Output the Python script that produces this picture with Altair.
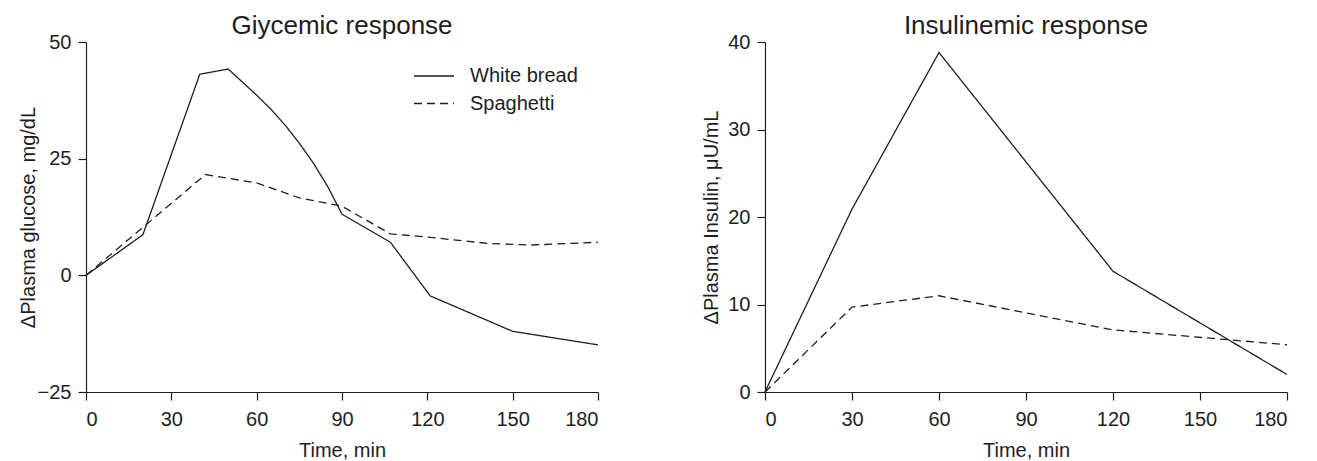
import altair as alt
import pandas as pd

# ---- data ----
series_names = ["White bread", "Spaghetti"]

glu_wb_t = [0, 20, 40, 50, 60, 65, 70, 75, 80, 85, 90, 107, 121, 150, 180]
glu_wb_v = [0, 8.7, 43.1, 44.2, 38.6, 35.6, 32.2, 28.3, 24.0, 19.0, 13.1, 7.1, -4.4, -12.0, -14.9]
glu_sp_t = [0, 42, 60, 75, 90, 107, 120, 142, 157, 180]
glu_sp_v = [0, 21.6, 19.8, 16.6, 14.8, 8.9, 8.2, 6.8, 6.5, 7.1]

ins_t = [0, 30, 60, 120, 180]
ins_wb_v = [0, 20.9, 38.8, 13.8, 2.0]
ins_sp_v = [0, 9.7, 11.0, 7.1, 5.4]

x_ticks = [0, 30, 60, 90, 120, 150, 180]
glu_ticks = [-25, 0, 25, 50]
ins_ticks = [0, 10, 20, 30, 40]

FONT = "Liberation Sans"
INK = "#1e1e1e"


def frame(ts, vs, name):
    return pd.DataFrame({"t": ts, "v": vs, "food": name, "o": range(len(ts))})


glu = pd.concat([frame(glu_wb_t, glu_wb_v, series_names[0]),
                 frame(glu_sp_t, glu_sp_v, series_names[1])])
ins = pd.concat([frame(ins_t, ins_wb_v, series_names[0]),
                 frame(ins_t, ins_sp_v, series_names[1])])

dash_scale = alt.Scale(domain=series_names, range=[[1, 0], [8, 5]])

x_enc = alt.X("t:Q", scale=alt.Scale(domain=[0, 180], nice=False),
              axis=alt.Axis(values=x_ticks, title="Time, min", labelPadding=9,
                            titleX=256, titleY=58, titleBaseline="middle"))

left = alt.Chart(glu).mark_line(strokeWidth=1.3, color=INK).encode(
    x=x_enc,
    y=alt.Y("v:Q", scale=alt.Scale(domain=[-25, 50], nice=False),
            axis=alt.Axis(values=glu_ticks, title="ΔPlasma glucose, mg/dL",
                          labelPadding=7,
                          titleX=-58, titleY=175, titleBaseline="middle")),
    strokeDash=alt.StrokeDash("food:N", scale=dash_scale,
                              legend=alt.Legend(title=None, orient="none",
                                                legendX=327, legendY=21,
                                                symbolType="stroke",
                                                symbolSize=1600,
                                                symbolStrokeWidth=1.3,
                                                symbolStrokeColor=INK,
                                                labelFontSize=20,
                                                labelFont=FONT,
                                                labelColor=INK,
                                                labelOffset=15,
                                                clipHeight=26,
                                                rowPadding=1.5,
                                                padding=0)),
    order="o:Q",
).properties(width=512, height=350,
             title=alt.TitleParams("Giycemic response", fontSize=26, font=FONT,
                                   fontWeight="normal", color=INK, offset=-7))

x_enc2 = alt.X("t:Q", scale=alt.Scale(domain=[0, 180], nice=False),
               axis=alt.Axis(values=x_ticks, title="Time, min", labelPadding=9,
                             titleX=261, titleY=58, titleBaseline="middle"))

right = alt.Chart(ins).mark_line(strokeWidth=1.3, color=INK).encode(
    x=x_enc2,
    y=alt.Y("v:Q", scale=alt.Scale(domain=[0, 40], nice=False),
            axis=alt.Axis(values=ins_ticks, title="ΔPlasma Insulin, μU/mL",
                          labelPadding=7,
                          titleX=-54, titleY=175, titleBaseline="middle")),
    strokeDash=alt.StrokeDash("food:N", scale=dash_scale, legend=None),
    order="o:Q",
).properties(width=522, height=350,
             title=alt.TitleParams("Insulinemic response", fontSize=26, font=FONT,
                                   fontWeight="normal", color=INK, offset=-7))

chart = alt.hconcat(left, right, spacing=100).resolve_legend(
    strokeDash="independent"
).properties(
    padding={"left": 10, "top": 5, "right": 5, "bottom": 0}
).configure_view(stroke=None).configure_axis(
    grid=False, domainColor=INK, tickColor=INK, domainWidth=1.2, tickWidth=1.2,
    tickSize=8, labelFont=FONT, labelFontSize=20, labelColor=INK, labelPadding=3,
    titleFont=FONT, titleFontSize=20, titleFontWeight="normal", titleColor=INK,
).configure_title(anchor="middle")

chart.save("out.html", embed_options={"renderer": "svg", "actions": False})
